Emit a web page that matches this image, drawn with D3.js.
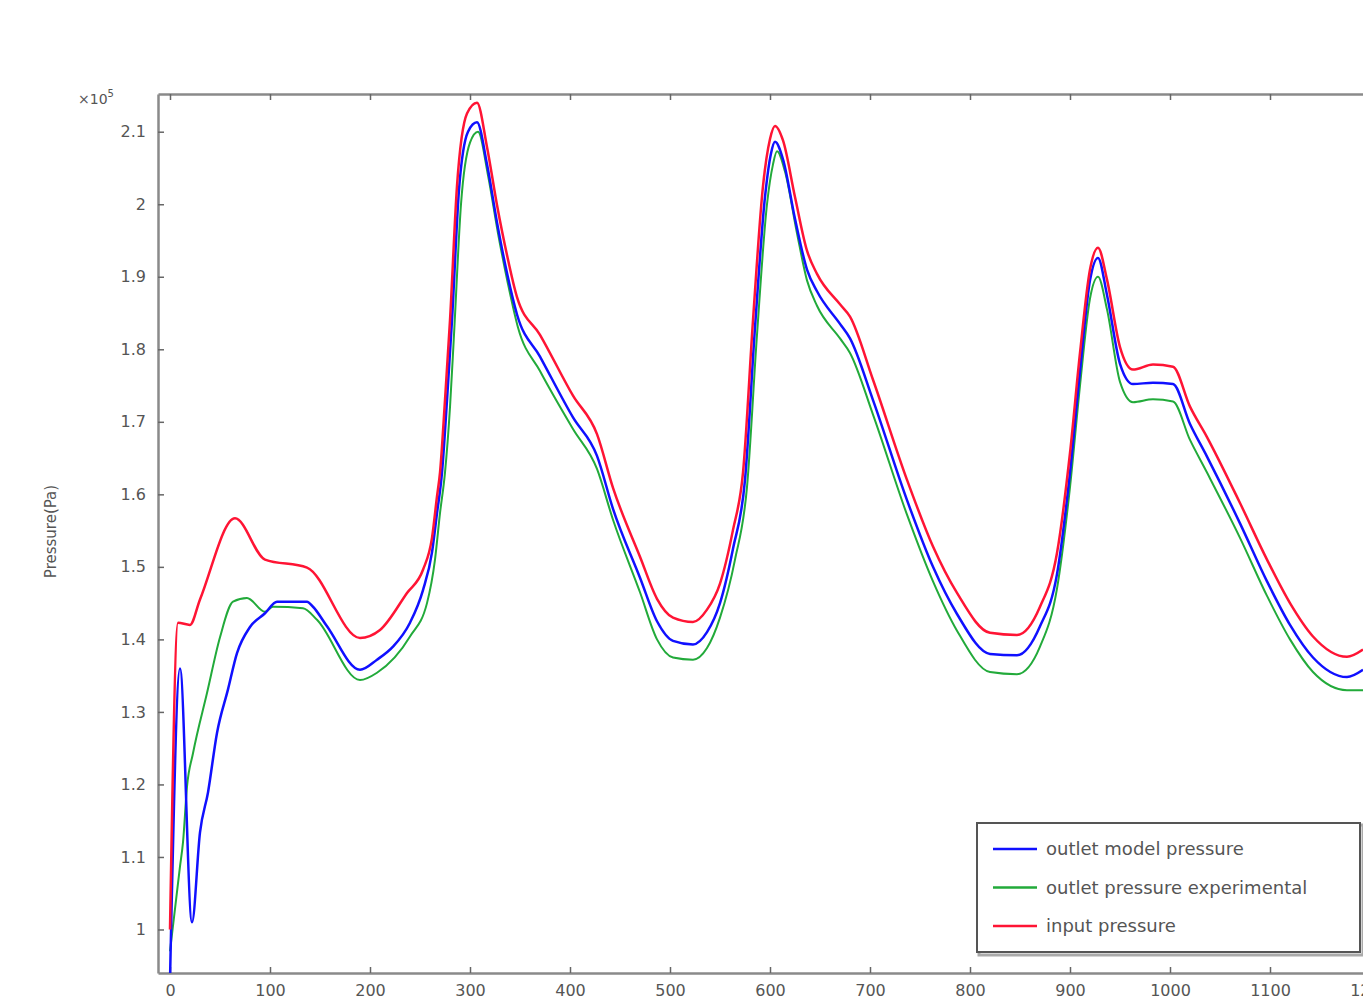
<!DOCTYPE html>
<html>
<head>
<meta charset="utf-8">
<script src="https://cdn.jsdelivr.net/npm/d3@7"></script>
<style>
  html, body { margin: 0; padding: 0; background: #fff; }
  svg { display: block; }
</style>
</head>
<body>
<svg id="chart" width="1363" height="1004"></svg>
<script>
// values are in units of 1e5 Pa
const redX = [0, 8, 20, 30, 65, 95, 137, 190, 210, 237, 253, 262, 267, 270, 275, 280, 287, 297, 307, 317, 327, 337, 347, 370, 403, 427, 443, 470, 487, 503, 523, 537, 550, 563, 573, 583, 593, 600, 605, 613, 625, 637, 647, 670, 680, 703, 737, 763, 787, 820, 847, 870, 887, 900, 910, 920, 928, 937, 950, 963, 983, 1003, 1020, 1037, 1070, 1097, 1120, 1143, 1177, 1193];
const redY = [1.00, 1.423, 1.42, 1.455, 1.567, 1.51, 1.499, 1.402, 1.413, 1.464, 1.496, 1.54, 1.597, 1.63, 1.73, 1.84, 2.025, 2.125, 2.14, 2.079, 1.999, 1.93, 1.872, 1.82, 1.736, 1.683, 1.609, 1.514, 1.456, 1.43, 1.424, 1.441, 1.477, 1.551, 1.63, 1.84, 2.025, 2.09, 2.108, 2.088, 2.01, 1.936, 1.904, 1.862, 1.845, 1.758, 1.62, 1.528, 1.464, 1.409, 1.406, 1.445, 1.519, 1.657, 1.795, 1.91, 1.94, 1.896, 1.803, 1.772, 1.779, 1.776, 1.721, 1.679, 1.588, 1.51, 1.45, 1.404, 1.376, 1.386];

const blueX = [0, 10, 22, 30, 38, 47, 58, 67, 80, 95, 107, 137, 143, 157, 190, 207, 223, 240, 253, 262, 267, 272, 277, 282, 289, 298, 307, 317, 327, 337, 347, 370, 403, 427, 443, 470, 487, 503, 523, 537, 550, 563, 575, 585, 595, 601, 605, 613, 625, 637, 647, 670, 680, 703, 737, 763, 787, 820, 847, 870, 887, 900, 910, 920, 928, 937, 950, 963, 983, 1003, 1020, 1037, 1070, 1097, 1120, 1143, 1177, 1193];
const blueY = [0.93, 1.36, 1.01, 1.134, 1.189, 1.271, 1.331, 1.381, 1.417, 1.436, 1.452, 1.452, 1.445, 1.418, 1.358, 1.372, 1.39, 1.423, 1.468, 1.52, 1.574, 1.63, 1.73, 1.84, 2.02, 2.10, 2.113, 2.055, 1.975, 1.905, 1.848, 1.79, 1.706, 1.653, 1.58, 1.485, 1.425, 1.398, 1.393, 1.41, 1.45, 1.525, 1.62, 1.83, 2.01, 2.07, 2.086, 2.062, 1.98, 1.91, 1.88, 1.835, 1.815, 1.73, 1.592, 1.50, 1.435, 1.38, 1.378, 1.418, 1.49, 1.63, 1.77, 1.895, 1.926, 1.875, 1.78, 1.752, 1.754, 1.752, 1.697, 1.652, 1.56, 1.48, 1.42, 1.375, 1.348, 1.358];

const greenX = [0, 10, 13, 17, 23, 37, 50, 63, 77, 95, 103, 133, 147, 190, 207, 240, 257, 265, 270, 275, 280, 284, 291, 300, 308, 318, 328, 338, 348, 370, 403, 427, 443, 470, 487, 503, 523, 537, 550, 565, 577, 587, 597, 603, 607, 615, 627, 637, 647, 670, 680, 703, 737, 763, 787, 820, 847, 870, 887, 900, 910, 920, 928, 937, 950, 963, 983, 1003, 1020, 1037, 1070, 1097, 1120, 1143, 1177, 1193];
const greenY = [0.97, 1.087, 1.12, 1.197, 1.243, 1.326, 1.403, 1.452, 1.457, 1.438, 1.445, 1.443, 1.427, 1.344, 1.354, 1.404, 1.45, 1.51, 1.574, 1.63, 1.72, 1.82, 2.0, 2.085, 2.10, 2.04, 1.96, 1.89, 1.83, 1.77, 1.69, 1.635, 1.565, 1.465, 1.40, 1.375, 1.372, 1.388, 1.43, 1.51, 1.61, 1.82, 2.0, 2.055, 2.073, 2.045, 1.96, 1.895, 1.86, 1.815, 1.795, 1.71, 1.572, 1.48, 1.412, 1.355, 1.352, 1.39, 1.47, 1.61, 1.75, 1.87, 1.90, 1.855, 1.755, 1.727, 1.731, 1.728, 1.675, 1.63, 1.54, 1.46, 1.40, 1.355, 1.33, 1.33];

const xTicks = [0, 100, 200, 300, 400, 500, 600, 700, 800, 900, 1000, 1100, 1200];
const yTicks = [1, 1.1, 1.2, 1.3, 1.4, 1.5, 1.6, 1.7, 1.8, 1.9, 2, 2.1];
const legendNames = ["outlet model pressure", "outlet pressure experimental", "input pressure"];

const colors = { blue: "#1010ff", green: "#22aa3a", red: "#ff1434" };

const svg = d3.select("#chart");
const plotLeft = 158, plotTop = 94, plotBottom = 973, plotRight = 1420;

const x = d3.scaleLinear().domain([-12, 1250]).range([plotLeft, plotRight]);
const y = d3.scaleLinear().domain([0.94, 2.152]).range([plotBottom, plotTop]);

svg.append("defs").append("clipPath").attr("id", "plotClip")
  .append("rect")
  .attr("x", plotLeft).attr("y", plotTop)
  .attr("width", plotRight - plotLeft).attr("height", plotBottom - plotTop);

// axes with inward ticks on all four sides
const axisColor = "#8a8a8a";
const fmt = d => String(+d.toFixed(1));

const xBottom = svg.append("g")
  .attr("transform", `translate(0,${plotBottom})`)
  .call(d3.axisBottom(x).tickValues(xTicks).tickSizeInner(-6).tickSizeOuter(0).tickPadding(12).tickFormat(d3.format("d")));
const xTop = svg.append("g")
  .attr("transform", `translate(0,${plotTop})`)
  .call(d3.axisTop(x).tickValues(xTicks).tickSizeInner(-6).tickSizeOuter(0).tickFormat(""));
const yLeft = svg.append("g")
  .attr("transform", `translate(${plotLeft},0)`)
  .call(d3.axisLeft(y).tickValues(yTicks).tickSizeInner(-6).tickSizeOuter(0).tickPadding(12).tickFormat(fmt));

[xBottom, xTop, yLeft].forEach(g => {
  g.select(".domain").attr("stroke", axisColor).attr("stroke-width", 2.5);
  g.selectAll(".tick line").attr("stroke", "#666").attr("stroke-width", 1.5);
  g.selectAll(".tick text")
    .attr("fill", "#555")
    .attr("font-family", "DejaVu Sans")
    .attr("font-size", 16);
});

// x10^5 multiplier
const mult = svg.append("text")
  .attr("x", 78).attr("y", 104)
  .attr("font-family", "DejaVu Sans")
  .attr("font-size", 14)
  .attr("fill", "#555")
  .text("×10");
mult.append("tspan").attr("dy", -7).attr("font-size", 10).text("5");

svg.append("text")
  .attr("transform", `translate(56,${(plotTop + plotBottom) / 2 - 2}) rotate(-90)`)
  .attr("text-anchor", "middle")
  .attr("font-family", "DejaVu Sans")
  .attr("font-size", 15)
  .attr("fill", "#555")
  .text("Pressure(Pa)");

// lines
const line = d3.line()
  .x(d => x(d[0]))
  .y(d => y(d[1]))
  .curve(d3.curveMonotoneX);

const series = [
  { name: legendNames[1], xs: greenX, ys: greenY, color: colors.green, w: 2 },
  { name: legendNames[0], xs: blueX, ys: blueY, color: colors.blue, w: 2.5 },
  { name: legendNames[2], xs: redX, ys: redY, color: colors.red, w: 2.5 }
];

const plot = svg.append("g").attr("clip-path", "url(#plotClip)");
plot.selectAll("path.series")
  .data(series)
  .enter()
  .append("path")
  .attr("class", "series")
  .attr("fill", "none")
  .attr("stroke", d => d.color)
  .attr("stroke-width", d => d.w)
  .attr("stroke-linejoin", "round")
  .attr("d", d => line(d.xs.map((v, i) => [v, d.ys[i]])));

// legend
const legend = svg.append("g").attr("transform", "translate(977,823)");
legend.append("rect")
  .attr("x", 2).attr("y", 2)
  .attr("width", 384).attr("height", 130)
  .attr("fill", "none")
  .attr("stroke", "#aaa")
  .attr("stroke-width", 3);
legend.append("rect")
  .attr("width", 383).attr("height", 129)
  .attr("fill", "#fff")
  .attr("stroke", "#555")
  .attr("stroke-width", 2);

const legendItems = [
  { name: legendNames[0], color: colors.blue },
  { name: legendNames[1], color: colors.green },
  { name: legendNames[2], color: colors.red }
];

const item = legend.selectAll("g.item")
  .data(legendItems)
  .enter()
  .append("g")
  .attr("class", "item")
  .attr("transform", (d, i) => `translate(0,${26 + i * 38.5})`);

item.append("line")
  .attr("x1", 16).attr("x2", 60)
  .attr("stroke", d => d.color)
  .attr("stroke-width", 2.5);

item.append("text")
  .attr("x", 69).attr("y", 6)
  .attr("font-family", "DejaVu Sans")
  .attr("font-size", 18)
  .attr("fill", "#555")
  .text(d => d.name);
</script>
</body>
</html>
